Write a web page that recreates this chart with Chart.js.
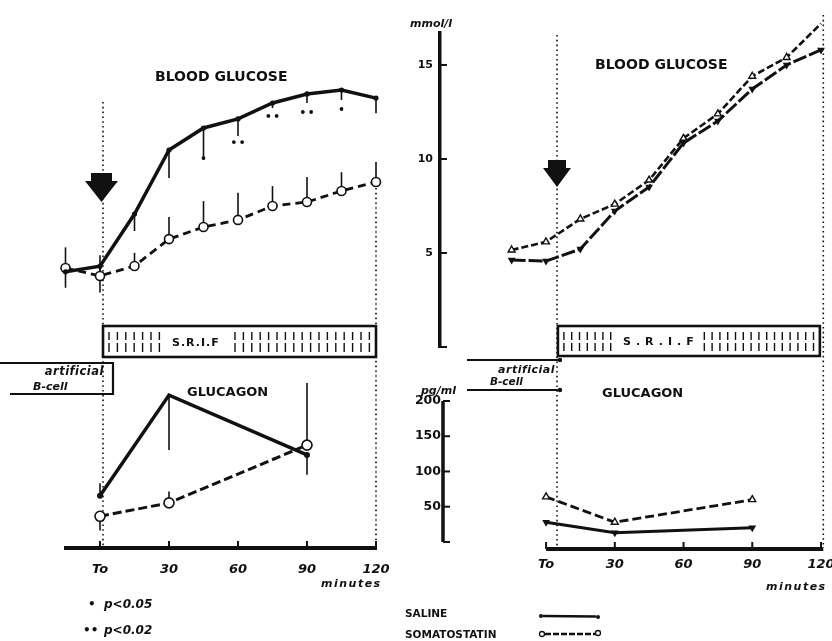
<!DOCTYPE html>
<html>
<head>
<meta charset="utf-8">
<script src="https://cdn.jsdelivr.net/npm/chart.js@4.4.1/dist/chart.umd.min.js"></script>
<style>
  html, body { margin: 0; padding: 0; background: #fff; }
  #stage { position: relative; width: 832px; height: 641px; overflow: hidden; background: #fff; }
  #stage canvas, #stage svg { position: absolute; left: 0; top: 0; }
  .lbl { position: absolute; white-space: nowrap; color: #111; line-height: 1;
         font-family: "DejaVu Sans", sans-serif; font-weight: bold; transform: translateY(-50%); }
</style>
</head>
<body>
<div id="stage">
  <canvas id="glucL" width="832" height="641"></canvas>
  <canvas id="glucR" width="832" height="641"></canvas>
  <canvas id="gcgL" width="832" height="641"></canvas>
  <canvas id="gcgR" width="832" height="641"></canvas>
  <svg width="832" height="641">
    <circle cx="541" cy="616" r="2" fill="#111"/>
    <line x1="543" y1="616" x2="596" y2="616.5" stroke="#111" stroke-width="2.5"/>
    <circle cx="598" cy="617" r="2" fill="#111"/>
    <line x1="545" y1="634" x2="596" y2="634" stroke="#111" stroke-width="2.5" stroke-dasharray="6,2"/>
    <circle cx="542" cy="634" r="2.5" fill="#fff" stroke="#111" stroke-width="1.3"/>
    <circle cx="598" cy="633" r="2.5" fill="#fff" stroke="#111" stroke-width="1.3"/>
  </svg>
</div>
<script>
// ============ DATA ============
const times = [-15, 0, 15, 30, 45, 60, 75, 90, 105, 120];   // minutes
const hormoneTimes = [0, 30, 90];
const axisTicks = [0, 30, 60, 90, 120];
const axisTickLabels = ["To", "30", "60", "90", "120"];
const glucoseTicks = [0, 5, 10, 15];
const glucagonTicks = [0, 50, 100, 150, 200];

// left experiment, blood glucose (mmol/l); errors: + up, - down
const glucSalineL = [4.0, 4.3, 7.07, 10.48, 11.65, 12.13, 12.98, 13.46, 13.67, 13.24];
const glucSalineErrL = [-0.85, -1.4, -0.9, -1.49, -1.7, -0.9, -0.27, -0.48, -0.53, -0.8];
const glucSomaL = [4.2, 3.78, 4.31, 5.74, 6.38, 6.76, 7.5, 7.71, 8.3, 8.78];
const glucSomaErrL = [1.1, 1.1, 0.7, 1.17, 1.38, 1.44, 1.06, 1.33, 1.0, 1.06];

// significance marks (left glucose)
const sigTimes = [45, 60, 75, 90, 105];
const sigLevels = [10.05, 10.9, 12.29, 12.5, 12.66];
const sigMarks = [1, 2, 2, 2, 1];

// right experiment, blood glucose (mmol/l)
const glucSalineR = [4.63, 4.57, 5.21, 7.23, 8.51, 10.85, 12.02, 13.72, 15.0, 15.8];
const glucSomaR = [5.16, 5.59, 6.81, 7.6, 8.88, 11.1, 12.4, 14.4, 15.4, 17.2];

// glucagon (pg/ml)
const gcgSalineL = [64, 207, 122];
const gcgSalineErrL = [18, -78, -28];
const gcgSomaL = [35, 54, 136];
const gcgSomaErrL = [-20, 16, 88];
const gcgSalineR = [28, 13, 20];
const gcgSomaR = [64, 28, 60];

// ============ HELPERS ============
const INK = "#111";
const FONT = '"DejaVu Sans", sans-serif';

function pts(xs, ys) {
  return xs.map((x, i) => ({ x, y: ys[i] }));
}

function series(xs, ys, errs, style) {
  return Object.assign({
    data: pts(xs, ys),
    errors: errs,
    borderColor: INK,
    pointBorderColor: INK,
    pointBackgroundColor: INK,
    clip: false,
    tension: 0,
  }, style);
}

const salineDot = { borderWidth: 3.5, pointRadius: 2.6, pointBorderWidth: 0 };
const somaCircle = { borderWidth: 2.8, borderDash: [8, 5], pointRadius: 4.5, pointBorderWidth: 1.6, pointBackgroundColor: "#fff" };
const salineTri = { borderWidth: 3, borderDash: [14, 3], pointStyle: "triangle", rotation: 180, pointRadius: 4.5, pointBorderWidth: 0 };
const somaTri = { borderWidth: 2.6, borderDash: [7, 3], pointStyle: "triangle", pointRadius: 4, pointBorderWidth: 1.4, pointBackgroundColor: "#fff" };

// error bars: a plain line from the point, before the markers are drawn
const errorBars = {
  id: "errorBars",
  beforeDatasetsDraw(chart) {
    const { ctx, scales: { x, y } } = chart;
    ctx.save();
    ctx.strokeStyle = INK;
    ctx.lineWidth = 1.6;
    chart.data.datasets.forEach((ds) => {
      if (!ds.errors) return;
      ds.data.forEach((p, j) => {
        const e = ds.errors[j];
        if (!e) return;
        const px = x.getPixelForValue(p.x);
        ctx.beginPath();
        ctx.moveTo(px, y.getPixelForValue(p.y));
        ctx.lineTo(px, y.getPixelForValue(p.y + e));
        ctx.stroke();
      });
    });
    ctx.restore();
  },
};

// tick marks pointing into the plot, plus optional hand-placed axis lines
const innerTicks = {
  id: "innerTicks",
  afterDraw(chart, args, opts) {
    const ctx = chart.ctx;
    const area = chart.chartArea;
    ctx.save();
    ctx.strokeStyle = INK;
    (opts.lines || []).forEach((l) => {
      const s = chart.scales[l.axis];
      ctx.lineWidth = l.width;
      ctx.beginPath();
      if (s.isHorizontal()) {
        ctx.moveTo(s.getPixelForValue(l.from), area.bottom);
        ctx.lineTo(s.getPixelForValue(l.to), area.bottom);
      } else {
        ctx.moveTo(area.left, s.getPixelForValue(l.from));
        ctx.lineTo(area.left, s.getPixelForValue(l.to));
      }
      ctx.stroke();
    });
    (opts.axes || []).forEach((a) => {
      const s = chart.scales[a];
      ctx.lineWidth = 2;
      s.ticks.forEach((tk) => {
        const p = s.getPixelForValue(tk.value);
        ctx.beginPath();
        if (s.isHorizontal()) {
          ctx.moveTo(p, area.bottom);
          ctx.lineTo(p, area.bottom - (opts.len || 7));
        } else {
          ctx.moveTo(area.left, p);
          ctx.lineTo(area.left + (opts.len || 7), p);
        }
        ctx.stroke();
      });
    });
    ctx.restore();
  },
};

// arrow, dotted infusion markers, S.R.I.F bar and artificial B-cell box
const decor = {
  id: "decor",
  beforeDatasetsDraw(chart, args, d) {
    if (d.startT === undefined) return;
    const ctx = chart.ctx;
    const x = chart.scales.x;
    const xs = x.getPixelForValue(d.startT);
    const xe = x.getPixelForValue(d.endT);
    ctx.save();
    ctx.fillStyle = INK;
    ctx.strokeStyle = INK;

    ctx.lineWidth = 1.6;
    ctx.setLineDash([1.6, 3.2]);
    [[xs, d.dotTop[0]], [xe, d.dotTop[1]]].forEach(([px, top]) => {
      ctx.beginPath();
      ctx.moveTo(px, top);
      ctx.lineTo(px, d.dotBottom);
      ctx.stroke();
    });
    ctx.setLineDash([]);

    // arrow
    const a = d.arrow;
    const ax = xs + a.dx;
    ctx.beginPath();
    ctx.moveTo(ax - a.shaftW / 2, a.top);
    ctx.lineTo(ax + a.shaftW / 2, a.top);
    ctx.lineTo(ax + a.shaftW / 2, a.neck);
    ctx.lineTo(ax + a.headW / 2, a.neck);
    ctx.lineTo(ax, a.tip);
    ctx.lineTo(ax - a.headW / 2, a.neck);
    ctx.lineTo(ax - a.shaftW / 2, a.neck);
    ctx.closePath();
    ctx.fill();

    // S.R.I.F bar
    const s0 = x.getPixelForValue(d.srifT[0]);
    const s1 = x.getPixelForValue(d.srifT[1]);
    const [y0, y1] = d.srifY;
    ctx.lineWidth = 2.6;
    ctx.strokeRect(s0, y0, s1 - s0, y1 - y0);
    ctx.lineWidth = 1.4;
    for (let hx = s0 + 6; hx < s1 - 3; hx += d.hatchStep) {
      if (hx > d.textGap[0] && hx < d.textGap[1]) continue;
      ctx.beginPath();
      ctx.moveTo(hx, y0 + 6);
      ctx.lineTo(hx, y0 + 14);
      ctx.moveTo(hx, y0 + 17);
      ctx.lineTo(hx, y1 - 5);
      ctx.stroke();
    }

    // artificial B-cell box
    const br = xs + d.bcellDx;
    ctx.lineWidth = 2.2;
    ctx.beginPath();
    ctx.moveTo(d.bcellLeft[0], d.bcellY[0]);
    ctx.lineTo(br, d.bcellY[0]);
    ctx.moveTo(d.bcellLeft[1], d.bcellY[1]);
    ctx.lineTo(br, d.bcellY[1]);
    ctx.stroke();
    if (d.bcellSolidEdge) {
      ctx.beginPath();
      ctx.moveTo(br, d.bcellY[0] - 1);
      ctx.lineTo(br, d.bcellY[1] + 1);
      ctx.stroke();
    } else {
      ctx.beginPath();
      ctx.arc(br, d.bcellY[0], 2.2, 0, Math.PI * 2);
      ctx.arc(br, d.bcellY[1], 2.2, 0, Math.PI * 2);
      ctx.fill();
    }
    ctx.restore();
  },
};

function baseOptions(pad, scales, pluginOpts) {
  return {
    responsive: false,
    animation: false,
    devicePixelRatio: 1,
    layout: { padding: pad },
    scales,
    plugins: Object.assign({ legend: { display: false }, tooltip: { enabled: false } }, pluginOpts),
  };
}

function fixTicks(values) {
  return (s) => { s.ticks = values.map((v) => ({ value: v })); };
}

const xAxisStyle = (min, padding) => ({
  type: "linear", min, max: 120, position: "bottom",
  afterBuildTicks: fixTicks(axisTicks),
  afterFit: (s) => { s.height = 40; s.paddingLeft = 0; s.paddingRight = 0; },
  grid: { display: false, drawTicks: false },
  ticks: {
    autoSkip: false, maxRotation: 0, padding, color: INK,
    font: { family: FONT, size: 13, style: "italic", weight: "bold" },
    callback: (v) => axisTickLabels[axisTicks.indexOf(v)],
  },
});

// ============ LEFT: BLOOD GLUCOSE ============
const sigPoints = [];
sigTimes.forEach((t, i) => {
  const n = sigMarks[i];
  for (let k = 0; k < n; k++) sigPoints.push({ x: t + (k - (n - 1) / 2) * 3.6, y: sigLevels[i] });
});

new Chart("glucL", {
  type: "line",
  data: {
    datasets: [
      series(times, glucSalineL, glucSalineErrL, salineDot),
      series(times, glucSomaL, glucSomaErrL, somaCircle),
      { data: sigPoints, showLine: false, pointRadius: 1.9, pointBorderWidth: 0, pointBackgroundColor: INK, clip: false },
    ],
  },
  options: baseOptions(
    { left: 65.5, right: 456, top: 27.4, bottom: 294 },
    {
      x: { type: "linear", min: -15, max: 120, display: false },
      y: { min: 0, max: 17, display: false },
    },
    {
      decor: {
        startT: 1.3, endT: 120,
        dotTop: [102, 188], dotBottom: 548,
        arrow: { dx: -1.5, top: 173, neck: 181, tip: 202, shaftW: 21, headW: 33 },
        srifT: [1.3, 120], srifY: [326, 357], hatchStep: 8.4, textGap: [165, 228],
        bcellLeft: [0, 10], bcellY: [363, 394], bcellDx: 10, bcellSolidEdge: true,
      },
    }
  ),
  plugins: [errorBars, decor],
});

// ============ RIGHT: BLOOD GLUCOSE ============
new Chart("glucR", {
  type: "line",
  data: {
    datasets: [
      series(times, glucSalineR, null, salineTri),
      series(times, glucSomaR, null, somaTri),
    ],
  },
  options: baseOptions(
    { left: 400, right: 11, top: 33, bottom: 294 },
    {
      x: { type: "linear", min: -46.25, max: 120, display: false },
      y: {
        min: 0, max: 16.7, position: "left",
        afterBuildTicks: fixTicks(glucoseTicks),
        afterFit: (s) => { s.width = 40; s.paddingTop = 0; s.paddingBottom = 0; },
        border: { display: true, width: 3.5, color: INK },
        grid: { display: false, drawTicks: false },
        ticks: {
          padding: 7, color: INK,
          font: { family: FONT, size: 11, weight: "bold" },
          callback: (v) => (v === 0 ? "" : v),
        },
      },
    },
    {
      innerTicks: { axes: ["y"], len: 7 },
      decor: {
        startT: 4.8, endT: 121,
        dotTop: [35, 15], dotBottom: 548,
        arrow: { dx: 0, top: 160, neck: 168, tip: 187, shaftW: 18, headW: 28 },
        srifT: [5.2, 119.5], srifY: [326, 356], hatchStep: 7.8, textGap: [612, 700],
        bcellLeft: [467, 467], bcellY: [360, 390], bcellDx: 3, bcellSolidEdge: false,
      },
    }
  ),
  plugins: [errorBars, innerTicks, decor],
});

// ============ LEFT: GLUCAGON ============
new Chart("gcgL", {
  type: "line",
  data: {
    datasets: [
      series(hormoneTimes, gcgSalineL, gcgSalineErrL, Object.assign({}, salineDot, { pointRadius: 3 })),
      series(hormoneTimes, gcgSomaL, gcgSomaErrL, Object.assign({}, somaCircle, { borderWidth: 3, borderDash: [9, 4], pointRadius: 5 })),
    ],
  },
  options: baseOptions(
    { left: 65.5, right: 456, top: 400, bottom: 53 },
    {
      x: Object.assign(xAxisStyle(-15, 14), { border: { display: true, width: 4, color: INK } }),
      y: { min: -10, max: 200, display: false },
    },
    { innerTicks: { axes: ["x"], len: 7 } }
  ),
  plugins: [errorBars, innerTicks],
});

// ============ RIGHT: GLUCAGON ============
new Chart("gcgR", {
  type: "line",
  data: {
    datasets: [
      series(hormoneTimes, gcgSalineR, null, Object.assign({}, salineTri, { borderDash: [] })),
      series(hormoneTimes, gcgSomaR, null, Object.assign({}, somaTri, { borderWidth: 2.8, borderDash: [9, 4] })),
    ],
  },
  options: baseOptions(
    { left: 403, right: 11, top: 401, bottom: 52 },
    {
      x: Object.assign(xAxisStyle(-45, 8), { border: { display: false } }),
      y: {
        min: -10, max: 200, position: "left",
        afterBuildTicks: fixTicks(glucagonTicks),
        afterFit: (s) => { s.width = 40; s.paddingTop = 0; s.paddingBottom = 0; },
        border: { display: false },
        grid: { display: false, drawTicks: false },
        ticks: {
          padding: 2, color: INK,
          font: { family: FONT, size: 12.5, weight: "bold" },
          callback: (v) => (v === 0 ? "" : v),
        },
      },
    },
    {
      innerTicks: {
        axes: ["x", "y"], len: 7,
        lines: [
          { axis: "x", from: 0, to: 121, width: 4 },
          { axis: "y", from: 0, to: 200, width: 3.5 },
        ],
      },
    }
  ),
  plugins: [innerTicks],
});

// ============ TEXT ============
const stage = document.getElementById("stage");
function addLabel(text, x, y, size, opts = {}) {
  const el = document.createElement("div");
  el.className = "lbl";
  el.textContent = text;
  el.style.top = y + "px";
  el.style.fontSize = size + "px";
  if (opts.right) el.style.right = (832 - x) + "px";
  else el.style.left = x + "px";
  if (opts.italic) el.style.fontStyle = "italic";
  if (opts.ls) el.style.letterSpacing = opts.ls + "px";
  stage.appendChild(el);
}

addLabel("BLOOD GLUCOSE", 155, 76, 14);
addLabel("BLOOD GLUCOSE", 595, 64, 14);
addLabel("GLUCAGON", 187, 391, 13);
addLabel("GLUCAGON", 602, 392, 13);
addLabel("mmol/l", 410, 23, 11, { italic: true });
addLabel("pg/ml", 421, 390, 11, { italic: true });
addLabel("minutes", 321, 583, 11, { italic: true, ls: 1.5 });
addLabel("minutes", 766, 586, 11, { italic: true, ls: 1.5 });
addLabel("S.R.I.F", 172, 342, 11, { ls: 1 });
addLabel("S.R.I.F", 623, 341, 11, { ls: 5 });
addLabel("artificial", 104, 372, 11.5, { italic: true, right: true, ls: 0.5 });
addLabel("B-cell", 33, 386, 11, { italic: true });
addLabel("artificial", 555, 369, 11, { italic: true, right: true, ls: 0.5 });
addLabel("B-cell", 490, 381, 10.5, { italic: true });
addLabel("•", 88, 604, 12);
addLabel("p<0.05", 104, 604, 12, { italic: true });
addLabel("••", 83, 630, 12);
addLabel("p<0.02", 104, 630, 12, { italic: true });
addLabel("SALINE", 405, 613, 10.5);
addLabel("SOMATOSTATIN", 405, 634, 10.5);
</script>
</body>
</html>
